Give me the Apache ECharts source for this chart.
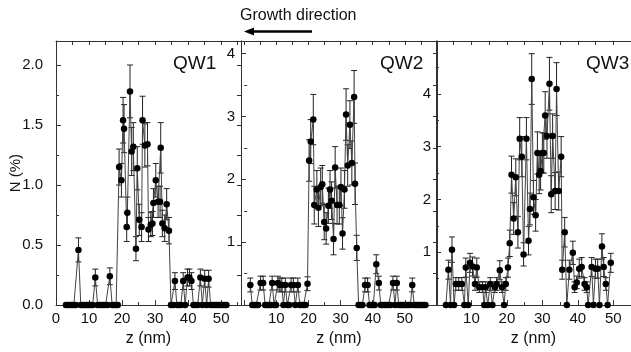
<!DOCTYPE html>
<html>
<head>
<meta charset="utf-8">
<script src="https://cdn.jsdelivr.net/npm/echarts@6/dist/echarts.min.js"></script>
<style>html,body{margin:0;padding:0;background:#fff}#c{width:631px;height:352px}</style>
</head>
<body>
<div id="c"></div>
<script>
// [z (nm), N (%), error]
const qw1 = [
 [3.0,0],[3.6,0],[4.2,0],[4.8,0],[5.4,0],[6.0,0],[6.8,0.46,0.10],[7.5,0],[8.1,0],[8.7,0],[9.3,0],[9.9,0],[10.5,0],[11.1,0],
 [11.9,0.23,0.07],[12.6,0],[13.2,0],[13.8,0],[14.4,0],[15.0,0],[15.6,0],[16.3,0.24,0.07],[17.0,0],[17.6,0],[18.2,0],[18.7,0],
 [19.1,1.15,0.15],[19.8,1.04,0.14],[20.3,1.54,0.19],[20.6,1.47,0.20],[21.4,0.65,0.12],[21.6,0.77,0.13],[22.4,1.78,0.22],
 [22.9,1.28,0.20],[23.4,1.32,0.20],[24.2,0.47,0.10],[24.6,1.14,0.18],[25.2,0.71,0.13],[25.9,0.65,0.12],[26.2,1.54,0.20],
 [26.9,1.33,0.18],[27.7,1.34,0.18],[28.0,0.63,0.10],[28.7,0.67,0.10],[29.2,0.68,0.10],[29.5,0.85,0.12],[30.2,1.04,0.14],
 [30.9,0.86,0.13],[31.5,0.86,0.13],[31.7,1.31,0.21],[32.2,0.68,0.11],[32.9,0.64,0.11],[33.5,0.84,0.13],[34.2,0.62,0.11],
 [34.8,0],[35.4,0],[36.0,0.20,0.07],[36.6,0],[37.2,0],[37.8,0],[38.5,0.20,0.07],[39.1,0],[39.8,0.23,0.07],[40.4,0.23,0.07],
 [41.0,0.20,0.07],[41.6,0],[42.2,0],[42.9,0],[43.7,0.23,0.07],[44.3,0],[45.0,0.22,0.07],[45.6,0],[46.2,0.22,0.07],[46.8,0],
 [47.4,0],[48.0,0],[48.6,0],[49.2,0],[49.8,0],[50.4,0],[51.0,0],[51.6,0]
];
const qw2 = [
 [1.9,0.32,0.11],[2.5,0],[3.1,0],[3.7,0],[4.3,0],[5.1,0.35,0.11],[5.9,0.35,0.11],[6.5,0],[7.1,0],[7.7,0],[8.2,0],[8.7,0.35,0.11],
 [9.3,0],[9.9,0],[10.5,0.35,0.11],[11.1,0.32,0.11],[11.7,0.32,0.11],[12.2,0],[12.8,0.32,0.11],[13.4,0],[14.0,0],[14.6,0.32,0.11],
 [15.3,0.32,0.11],[15.9,0],[16.7,0.32,0.11],[17.3,0],[17.9,0],[18.5,0],[19.1,0],[19.7,0.34,0.11],
 [20.2,2.30,0.33],[20.7,2.60,0.35],[21.5,2.95,0.40],[21.8,1.59,0.30],[22.6,1.84,0.30],[23.1,1.55,0.30],[23.8,1.88,0.30],
 [24.3,1.92,0.30],[24.9,1.32,0.28],[25.5,1.22,0.25],[26.2,1.58,0.28],[26.7,1.84,0.30],[27.2,1.66,0.30],[27.8,1.05,0.25],
 [28.3,2.19,0.33],[28.9,1.59,0.30],[29.6,1.59,0.30],[30.1,1.88,0.30],[30.6,1.14,0.25],[31.2,1.84,0.30],[31.7,3.03,0.41],
 [32.2,2.22,0.33],[32.9,2.87,0.38],[33.5,2.26,0.35],[34.2,3.31,0.42],[34.5,1.93,0.33],[35.0,0.91,0.20],
 [35.6,0],[36.2,0],[36.8,0],[37.6,0.32,0.11],[38.4,0.32,0.11],[39.0,0],[39.6,0],[40.2,0],[40.6,0],[41.1,0.65,0.15],
 [41.9,0.35,0.11],[42.5,0],[43.1,0],[43.7,0],[44.3,0],[44.9,0],[45.5,0],[46.3,0.35,0.11],[46.9,0],[47.5,0.35,0.11],
 [48.1,0],[48.7,0],[49.3,0],[49.9,0],[50.5,0],[51.1,0],[51.7,0],[52.3,0.32,0.11],[52.9,0],[53.5,0],[54.1,0],[54.7,0],
 [55.3,0],[55.9,0],[56.4,0]
];
const qw3 = [
 [2.8,0],[3.5,0.67,0.18],[4.1,0],[4.5,1.05,0.24],[5.1,0],[5.6,0.40,0.12],[6.4,0.40,0.12],[7.3,0.40,0.12],[8.0,0],
 [8.4,0.71,0.18],[9.1,0],[9.6,0.80,0.18],[10.3,0.73,0.18],[11.0,0.40,0.12],[11.5,0.71,0.18],[12.2,0.34,0.10],
 [13.1,0.34,0.10],[13.6,0],[14.0,0.34,0.10],[14.6,0],[15.3,0.40,0.12],[15.9,0],[16.6,0.34,0.10],[17.1,0.40,0.12],
 [18.0,0.66,0.18],[18.6,0.34,0.10],[19.2,0],[19.7,0.40,0.12],[20.3,0.71,0.18],[20.8,1.17,0.25],[21.3,2.47,0.35],
 [21.9,1.64,0.30],[22.5,2.42,0.35],[23.1,1.38,0.30],[23.6,3.15,0.40],[24.2,2.81,0.38],[24.7,0.96,0.22],[25.5,3.15,0.40],
 [26.1,1.22,0.27],[26.5,1.82,0.30],[27.0,4.28,0.48],[27.5,2.04,0.32],[28.1,1.70,0.30],[28.6,2.88,0.40],[29.1,2.47,0.36],
 [29.5,2.54,0.36],[30.0,2.88,0.38],[30.4,2.88,0.38],[30.8,3.59,0.45],[31.3,3.20,0.42],[32.0,4.19,0.50],[32.5,2.10,0.35],
 [32.9,3.20,0.42],[33.6,2.16,0.35],[34.0,4.09,0.50],[34.6,2.16,0.36],[35.3,2.81,0.38],[35.6,0.67,0.18],[36.3,1.38,0.28],
 [36.9,0],[37.6,0.67,0.18],[38.6,0.99,0.22],[39.1,0.34,0.10],[39.7,0.43,0.12],[40.4,0.69,0.18],[41.1,0.72,0.18],
 [41.9,0.40,0.12],[42.5,0.34,0.10],[42.9,0],[43.9,0.72,0.18],[44.4,0],[45.0,0.69,0.18],[45.6,0.69,0.18],[46.1,0],
 [46.8,1.11,0.24],[47.3,0.72,0.18],[47.9,0.40,0.12],[48.4,0],[49.3,0.80,0.18]
];
const panelNames = ['QW1','QW2','QW3'];
const xLabels1 = [0,10,20,30,40,50];
const xLabels23 = [10,20,30,40,50];
const xMajor = [0,10,20,30,40,50];
const xMinor = [5,15,25,35,45,55];
const yLabels1 = [0,0.5,1,1.5,2];
const yMinor1 = [0.25,0.75,1.25,1.75];
const yLabels23 = [1,2,3,4];
const yMajor2 = [0,1,2,3,4];
const yMinor2 = [0.5,1.5,2.5,3.5];
const yMajor3 = [0,1,2,3,4];
const yMinor3 = [0.5,1.5,2.5,3.5,4.5];

const FONT = 'Liberation Sans, Arial, Helvetica, sans-serif';
const LC = '#333';
const panels = [
  {data:qw1, grid:{left:56,top:41,width:185,height:269}, xMin:0, xMax:56, xLab:xLabels1, yMax:2.2, yLab:yLabels1, yMaj:yLabels1, yMin:yMinor1, fmt:v=>v.toFixed(1), yMargin:13, right:true, yName:'N (%)'},
  {data:qw2, grid:{left:241,top:41,width:196,height:269}, xMin:-1, xMax:60, xLab:xLabels23, yMax:4.2, yLab:yLabels23, yMaj:yMajor2, yMin:yMinor2, fmt:v=>String(v), yMargin:6, right:true},
  {data:qw3, grid:{left:436,top:41,width:195,height:269}, xMin:0, xMax:55, xLab:xLabels23, yMax:5, yLab:yLabels23, yMaj:yMajor3, yMin:yMinor3, fmt:v=>String(v), yMargin:5, right:false}
];

const grids=[], xAxes=[], yAxes=[], series=[];
panels.forEach((p,i)=>{
  grids.push(Object.assign({containLabel:false}, p.grid));
  const xi = xAxes.length;
  xAxes.push({type:'value', gridIndex:i, min:p.xMin, max:p.xMax, position:'bottom',
    axisLine:{show:true,onZero:false,lineStyle:{color:LC,width:1}},
    axisTick:{show:true,inside:true,length:5,customValues:xMajor.filter(v=>v>p.xMin&&v<p.xMax),lineStyle:{color:LC}},
    axisLabel:{show:true,customValues:p.xLab,fontSize:15,color:'#111',fontFamily:FONT,margin:6},
    splitLine:{show:false},
    name:'z (nm)', nameLocation:'middle', nameGap:23, nameTextStyle:{fontSize:16,color:'#111',fontFamily:FONT}});
  xAxes.push({type:'value', gridIndex:i, min:p.xMin, max:p.xMax, position:'bottom',
    axisLine:{show:false}, axisLabel:{show:false}, splitLine:{show:false},
    axisTick:{show:true,inside:true,length:3,customValues:xMinor.filter(v=>v>p.xMin&&v<p.xMax),lineStyle:{color:LC}}});
  xAxes.push({type:'value', gridIndex:i, min:p.xMin, max:p.xMax, position:'top',
    axisLine:{show:true,onZero:false,lineStyle:{color:LC,width:1}}, axisLabel:{show:false}, splitLine:{show:false},
    axisTick:{show:true,inside:true,length:4,customValues:xMajor.concat(xMinor).filter(v=>v>p.xMin&&v<p.xMax),lineStyle:{color:LC}}});
  const yi = yAxes.length;
  yAxes.push({type:'value', gridIndex:i, min:0, max:p.yMax, position:'left',
    axisLine:{show:true,onZero:false,lineStyle:{color:LC,width:1}},
    axisTick:{show:true,inside:true,length:5,customValues:p.yMaj,lineStyle:{color:LC}},
    axisLabel:{show:true,customValues:p.yLab,formatter:p.fmt,fontSize:15,color:'#111',fontFamily:FONT,margin:p.yMargin},
    splitLine:{show:false},
    name:p.yName||'', nameLocation:'middle', nameGap:33, nameRotate:90, nameMoveOverlap:false,
    nameTextStyle:{fontSize:15,color:'#111',fontFamily:FONT}});
  yAxes.push({type:'value', gridIndex:i, min:0, max:p.yMax, position:'left',
    axisLine:{show:false}, axisLabel:{show:false}, splitLine:{show:false},
    axisTick:{show:true,inside:true,length:3,customValues:p.yMin,lineStyle:{color:LC}}});
  if (p.right) {
    yAxes.push({type:'value', gridIndex:i, min:0, max:p.yMax, position:'right',
      axisLine:{show:true,onZero:false,lineStyle:{color:LC,width:1}}, axisLabel:{show:false}, splitLine:{show:false},
      axisTick:{show:true,inside:true,length:4,customValues:p.yMaj.concat(p.yMin),lineStyle:{color:LC}}});
  }
  series.push({type:'custom', xAxisIndex:xi, yAxisIndex:yi, data:p.data.map(d=>[d[0],d[1],d[2]||0]),
    encode:{x:0,y:1}, clip:true, silent:true, z:2,
    renderItem:function(params, api){
      const x=api.value(0), y=api.value(1), e=api.value(2);
      if(!e) return null;
      const t=api.coord([x,y+e]), b=api.coord([x,y-e]); const cw=3;
      const st={stroke:'#222',lineWidth:1};
      return {type:'group',children:[
        {type:'line',shape:{x1:t[0],y1:t[1],x2:b[0],y2:b[1]},style:st},
        {type:'line',shape:{x1:t[0]-cw,y1:t[1],x2:t[0]+cw,y2:t[1]},style:st},
        {type:'line',shape:{x1:b[0]-cw,y1:b[1],x2:b[0]+cw,y2:b[1]},style:st}
      ]};
    }});
  series.push({type:'line', xAxisIndex:xi, yAxisIndex:yi, data:p.data.map(d=>[d[0],d[1]]),
    symbol:'circle', symbolSize:6.5, showSymbol:true, clip:true, z:3,
    lineStyle:{color:'#444',width:1}, itemStyle:{color:'#000'}, emphasis:{disabled:true}});
});

const graphics = [
  {type:'text', left:173, top:54, style:{text:'QW1',fontSize:19,fill:'#111',fontFamily:FONT}},
  {type:'text', left:380, top:54, style:{text:'QW2',fontSize:19,fill:'#111',fontFamily:FONT}},
  {type:'text', left:586, top:54, style:{text:'QW3',fontSize:19,fill:'#111',fontFamily:FONT}},
  {type:'text', left:240, top:8, style:{text:'Growth direction',fontSize:16,fill:'#111',fontFamily:FONT}},
  {type:'line', shape:{x1:252,y1:31.5,x2:312,y2:31.5}, style:{stroke:'#000',lineWidth:2.5}},
  {type:'polygon', shape:{points:[[244,31.5],[254,27.5],[254,35.5]]}, style:{fill:'#000'}}
];

const chart = echarts.init(document.getElementById('c'), null, {renderer:'canvas'});
chart.setOption({animation:false, backgroundColor:'#fff', grid:grids, xAxis:xAxes, yAxis:yAxes, series:series, graphic:graphics});
</script>
</body>
</html>
